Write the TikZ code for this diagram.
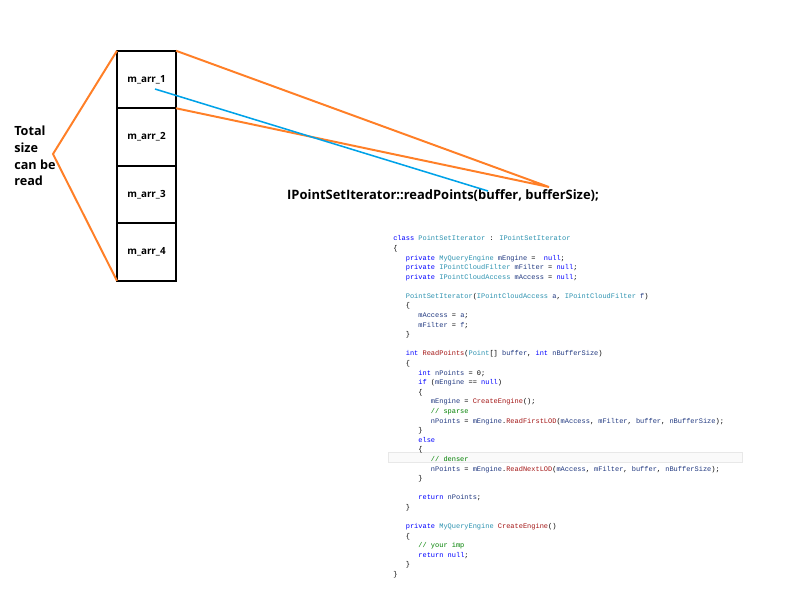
\documentclass[tikz,border=0pt]{standalone}
\usepackage{fontspec}
\setmainfont{Open Sans}
\newfontfamily\codefont{Liberation Mono}
\usetikzlibrary{positioning}

\definecolor{paintorange}{RGB}{255,127,39}
\definecolor{paintblue}{RGB}{0,162,232}
\definecolor{kwblue}{RGB}{0,0,255}
\definecolor{tyteal}{RGB}{43,145,175}
\definecolor{fnred}{RGB}{163,21,21}
\definecolor{vanavy}{RGB}{31,55,127}
\definecolor{cmgreen}{RGB}{0,128,0}

\newcommand{\kw}[1]{\textcolor{kwblue}{#1}}
\newcommand{\ty}[1]{\textcolor{tyteal}{#1}}
\newcommand{\fn}[1]{\textcolor{fnred}{#1}}
\newcommand{\va}[1]{\textcolor{vanavy}{#1}}
\newcommand{\cm}[1]{\textcolor{cmgreen}{#1}}
\newcommand{\ia}{\hspace*{1.8em}}
\newcommand{\ib}{\hspace*{3.6em}}
\newcommand{\ic}{\hspace*{5.4em}}

\tikzstyle{cell} = [rectangle, minimum width=1.475cm, minimum height=1.4375cm, outer sep=0pt, inner sep=0pt, line width=1.7pt, draw=black, font=\bfseries\fontsize{7}{8}\selectfont]
\tikzstyle{span} = [paintorange, line width=1.4pt]
\tikzstyle{ptr} = [paintblue, line width=1.1pt]
\tikzstyle{code} = [anchor=north west, inner sep=0pt, align=left, font=\codefont\fontsize{4.96}{6.82}\selectfont]

\begin{document}
\begin{tikzpicture}[x=0.025cm, y=-0.025cm]
				\useasboundingbox (0,0) rectangle (800,595);
				\node (arr1) [cell] at (146.5,79.5) {m\_arr\_1};
				\node (arr2) [cell, below=0pt of arr1] {m\_arr\_2};
				\node (arr3) [cell, below=0pt of arr2] {m\_arr\_3};
				\node (arr4) [cell, below=0pt of arr3] {m\_arr\_4};
				\node (total) [anchor=west, inner sep=0pt, align=left, font=\bfseries\fontsize{9}{11.8}\selectfont] at (14,156) {Total\\size\\can be\\read};
				\node (call) [font=\bfseries\fontsize{9.2}{11}\selectfont] at (443,196) {IPointSetIterator::readPoints(buffer, bufferSize);};
				\coordinate (apex) at (53,154);
				\coordinate (tip) at (549,187);
				\coordinate (elem) at (155,89);
				\coordinate (buf) at (488,191);
				% orange spans
				\draw[span] (arr1.north west) -- (apex) -- (arr4.south west);
				\draw[span] (arr1.north east) -- (tip) -- (arr1.south east);
				\draw[ptr] (elem) -- (buf);
				% current line highlight
				\draw[gray!18, fill=gray!4, line width=0.6pt] (388,452) rectangle (742,462);
				\node (src) [code] at (393,235.5) {%
\kw{class} \ty{PointSetIterator} : \ty{IPointSetIterator}\\
\{\\
\ia\kw{private} \ty{MyQueryEngine} \va{mEngine} =~ \kw{null};\\
\ia\kw{private} \ty{IPointCloudFilter} \va{mFilter} = \kw{null};\\
\ia\kw{private} \ty{IPointCloudAccess} \va{mAccess} = \kw{null};\\
\mbox{}\\
\ia\ty{PointSetIterator}(\ty{IPointCloudAccess} \va{a}, \ty{IPointCloudFilter} \va{f})\\
\ia\{\\
\ib\va{mAccess} = \va{a};\\
\ib\va{mFilter} = \va{f};\\
\ia\}\\
\mbox{}\\
\ia\kw{int} \fn{ReadPoints}(\ty{Point}[] \va{buffer}, \kw{int} \va{nBufferSize})\\
\ia\{\\
\ib\kw{int} \va{nPoints} = 0;\\
\ib\kw{if} (\va{mEngine} == \kw{null})\\
\ib\{\\
\ic\va{mEngine} = \fn{CreateEngine}();\\
\ic\cm{// sparse}\\
\ic\va{nPoints} = \va{mEngine}.\fn{ReadFirstLOD}(\va{mAccess}, \va{mFilter}, \va{buffer}, \va{nBufferSize});\\
\ib\}\\
\ib\kw{else}\\
\ib\{\\
\ic\cm{// denser}\\
\ic\va{nPoints} = \va{mEngine}.\fn{ReadNextLOD}(\va{mAccess}, \va{mFilter}, \va{buffer}, \va{nBufferSize});\\
\ib\}\\
\mbox{}\\
\ib\kw{return} \va{nPoints};\\
\ia\}\\
\mbox{}\\
\ia\kw{private} \ty{MyQueryEngine} \fn{CreateEngine}()\\
\ia\{\\
\ib\cm{// your imp}\\
\ib\kw{return} \kw{null};\\
\ia\}\\
\}};
\end{tikzpicture}
\end{document}
